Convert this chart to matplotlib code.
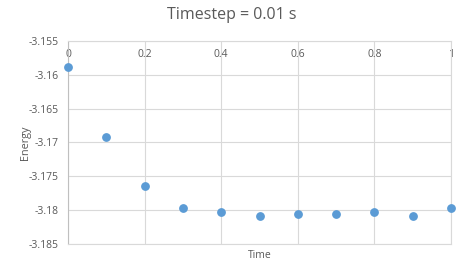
import matplotlib
matplotlib.use("Agg")
import matplotlib.pyplot as plt

# time (s) vs energy
time = [0.0, 0.1, 0.2, 0.3, 0.4, 0.5, 0.6, 0.7, 0.8, 0.9, 1.0]
energy = [-3.1588, -3.1692, -3.1765, -3.1797, -3.1803, -3.1809,
          -3.1805, -3.1805, -3.1803, -3.1808, -3.1797]
xticks = [0, 0.2, 0.4, 0.6, 0.8, 1]
xticklabels = ["0", "0.2", "0.4", "0.6", "0.8", "1"]
yticks = [-3.155, -3.16, -3.165, -3.17, -3.175, -3.18, -3.185]
yticklabels = ["-3.155", "-3.16", "-3.165", "-3.17", "-3.175", "-3.18", "-3.185"]

plt.rcParams['font.family'] = ['Open Sans', 'DejaVu Sans']
txt = '#595959'
grid = '#d9d9d9'

fig = plt.figure(figsize=(4.63, 2.71), dpi=100)
ax = fig.add_axes([0.147, 0.0996, 0.827, 0.7494])

ax.scatter(time, energy, s=28, color='#5B9BD5', zorder=3, clip_on=False)

ax.set_xlim(0, 1)
ax.set_ylim(-3.185, -3.155)
ax.set_xticks(xticks)
ax.set_xticklabels(xticklabels)
ax.set_yticks(yticks)
ax.set_yticklabels(yticklabels)
ax.grid(True, color=grid, linewidth=0.8)
ax.set_axisbelow(True)
for s in ax.spines.values():
    s.set_color(grid)
    s.set_linewidth(0.8)
ax.spines['left'].set_color('#bfbfbf')

ax.tick_params(axis='x', length=0, labeltop=True, labelbottom=False,
               pad=-14, labelsize=7.5, labelcolor=txt)
ax.tick_params(axis='y', length=0, pad=7, labelsize=7.5, labelcolor=txt)

ax.set_xlabel("Time", fontsize=7.5, color=txt, labelpad=4)
ax.set_ylabel("Energy", fontsize=7.8, color=txt, labelpad=-2)
fig.suptitle("Timestep = 0.01 s", x=0.5, y=0.975, fontsize=11.5, color=txt)

fig.savefig("out.png", dpi=100)
